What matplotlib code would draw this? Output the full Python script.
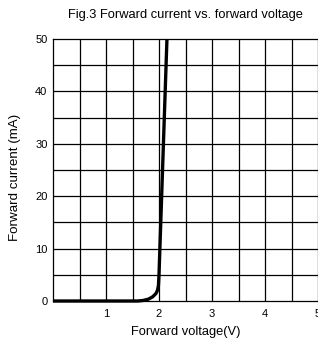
import matplotlib
matplotlib.use("Agg")
import matplotlib.pyplot as plt
import numpy as np

plt.rcParams['font.family'] = ['Liberation Sans', 'DejaVu Sans']

voltage = [0.0, 1.0, 1.6, 1.7, 1.8, 1.88, 1.94, 1.97, 1.99, 2.0, 2.05, 2.1, 2.15]
current = [0.0, 0.0, 0.0, 0.1, 0.35, 0.8, 1.4, 2.0, 3.0, 5.0, 20.0, 35.0, 50.0]

x_ticks = [1, 2, 3, 4, 5]
x_ticklabels = ["1", "2", "3", "4", "5"]
y_ticks = [0, 10, 20, 30, 40, 50]
y_ticklabels = ["0", "10", "20", "30", "40", "50"]

fig = plt.figure(figsize=(3.18, 3.45), dpi=100)
ax = fig.add_axes([53/318, 1 - 301/345, 265/318, 262/345])

ax.set_xlim(0, 5)
ax.set_ylim(0, 50)

for v in np.arange(0.5, 5.0, 0.5):
    ax.axvline(v, color='black', lw=0.9, zorder=1)
for c in np.arange(5, 50, 5):
    ax.axhline(c, color='black', lw=0.9, zorder=1)

ax.plot(voltage, current, color='black', lw=2.4, solid_capstyle='butt', zorder=3, clip_on=False)

ax.set_xticks(x_ticks)
ax.set_xticklabels(x_ticklabels)
ax.set_yticks(y_ticks)
ax.set_yticklabels(y_ticklabels)
ax.tick_params(length=0, labelsize=8, pad=6)
ax.tick_params(axis='y', pad=4)

for s in ax.spines.values():
    s.set_linewidth(0.9)
    s.set_color('black')

ax.set_title("Fig.3 Forward current vs. forward voltage", fontsize=9.3, pad=15)
ax.set_xlabel("Forward voltage(V)", fontsize=9.3, labelpad=5)
ax.set_ylabel("Forward current (mA)", fontsize=9.6)
ax.yaxis.set_label_coords(-32/265, 0.47)

fig.savefig("out.png", dpi=100)
